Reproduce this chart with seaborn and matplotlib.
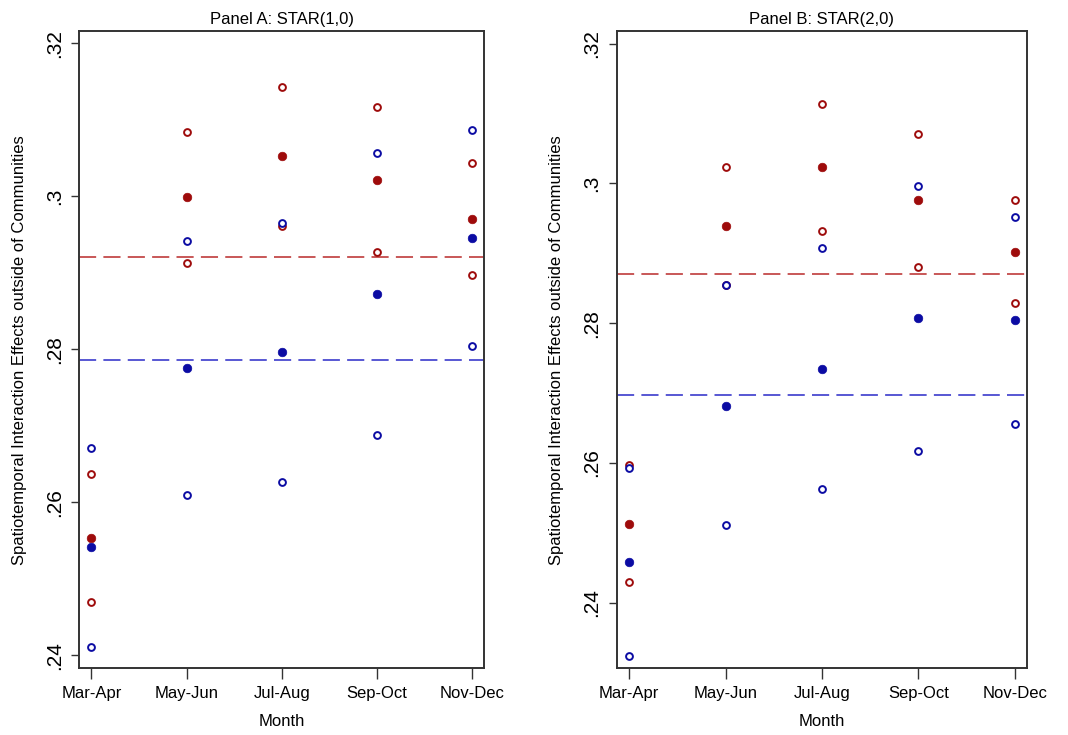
import matplotlib
matplotlib.use("Agg")
import matplotlib.pyplot as plt
import seaborn as sns
import pandas as pd

months = ["Mar-Apr", "May-Jun", "Jul-Aug", "Sep-Oct", "Nov-Dec"]

# Panel A: STAR(1,0)
a_red_est = [0.2554, 0.2999, 0.3053, 0.3021, 0.2970]
a_red_hi = [0.2637, 0.3084, 0.3143, 0.3117, 0.3044]
a_red_lo = [0.2470, 0.2913, 0.2961, 0.2927, 0.2897]
a_blue_est = [0.2542, 0.2776, 0.2796, 0.2872, 0.2945]
a_blue_hi = [0.2671, 0.2941, 0.2965, 0.3057, 0.3086]
a_blue_lo = [0.2411, 0.2610, 0.2627, 0.2688, 0.2804]
a_red_mean = 0.2920
a_blue_mean = 0.2786

# Panel B: STAR(2,0)
b_red_est = [0.2513, 0.2939, 0.3023, 0.2976, 0.2902]
b_red_hi = [0.2597, 0.3023, 0.3114, 0.3070, 0.2976]
b_red_lo = [0.2430, 0.2855, 0.2932, 0.2881, 0.2829]
b_blue_est = [0.2458, 0.2682, 0.2735, 0.2807, 0.2804]
b_blue_hi = [0.2593, 0.2854, 0.2908, 0.2996, 0.2952]
b_blue_lo = [0.2324, 0.2511, 0.2562, 0.2617, 0.2655]
b_red_mean = 0.2871
b_blue_mean = 0.2697

ytick_vals = [0.24, 0.26, 0.28, 0.30, 0.32]
ytick_labels = [".24", ".26", ".28", ".3", ".32"]
titles = ["Panel A: STAR(1,0)", "Panel B: STAR(2,0)"]
ylabel = "Spatiotemporal Interaction Effects outside of Communities"
xlabel = "Month"

sns.set_theme(style="white")
plt.rcParams["font.family"] = ["Liberation Sans", "DejaVu Sans"]
plt.rcParams["text.color"] = "black"
plt.rcParams["axes.labelcolor"] = "black"
plt.rcParams["xtick.color"] = "black"
plt.rcParams["ytick.color"] = "black"

RED = "#9e0b0b"
BLUE = "#0b0ba3"
RED_LINE = "#c44a4a"
BLUE_LINE = "#4a4ad0"

fig = plt.figure(figsize=(10.68, 7.35), dpi=100)
ax_a = fig.add_axes([0.074, 0.0907, 0.3795, 0.8671])
ax_b = fig.add_axes([0.5774, 0.0907, 0.3845, 0.8671])

panels = [
    (ax_a, a_red_est, a_red_hi, a_red_lo, a_blue_est, a_blue_hi, a_blue_lo,
     a_red_mean, a_blue_mean, (0.2383, 0.3216)),
    (ax_b, b_red_est, b_red_hi, b_red_lo, b_blue_est, b_blue_hi, b_blue_lo,
     b_red_mean, b_blue_mean, (0.2306, 0.3218)),
]

for i, (ax, r_est, r_hi, r_lo, b_est, b_hi, b_lo, r_mean, b_mean, ylim) in enumerate(panels):
    ax.axhline(r_mean, color=RED_LINE, lw=1.3, dashes=(9.5, 4), zorder=1)
    ax.axhline(b_mean, color=BLUE_LINE, lw=1.3, dashes=(9.5, 4), zorder=1)
    groups = [
        (r_hi + r_lo, RED, False),
        (r_est, RED, True),
        (b_hi + b_lo, BLUE, False),
        (b_est, BLUE, True),
    ]
    for vals, col, filled in groups:
        n = len(vals)
        xs = (months * (n // len(months)))
        df = pd.DataFrame({"month": xs, "value": vals})
        if filled:
            sns.scatterplot(data=df, x="month", y="value", ax=ax, color=col,
                            s=38, edgecolor=col, linewidth=0.5, zorder=3)
        else:
            sns.scatterplot(data=df, x="month", y="value", ax=ax,
                            facecolor="white", edgecolor=col, s=24,
                            linewidth=1.4, zorder=3)
    ax.set_xlim(-0.13, 4.13)
    ax.set_ylim(*ylim)
    ax.set_yticks(ytick_vals)
    ax.set_yticklabels(ytick_labels, rotation=90, va="center", fontsize=15)
    ax.set_xticks(range(len(months)))
    ax.set_xticklabels(months, fontsize=12)
    ax.tick_params(axis="y", direction="out", length=6, width=1.0,
                   color="#333333", pad=5, left=True)
    ax.tick_params(axis="x", direction="out", length=8, width=1.0,
                   color="#333333", pad=5, bottom=True)
    ax.set_title(titles[i], fontsize=12, pad=5)
    ax.set_xlabel(xlabel, fontsize=12, labelpad=9)
    ax.set_ylabel(ylabel, fontsize=12, labelpad=13)
    for sp in ax.spines.values():
        sp.set_visible(True)
        sp.set_color("#333333")
        sp.set_linewidth(1.4)
    ax.grid(False)

fig.savefig("out.png", dpi=100, facecolor="white")
